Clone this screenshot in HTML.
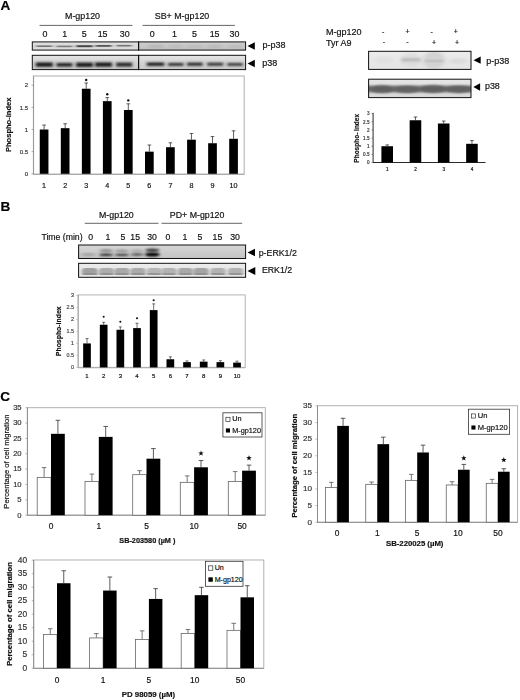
<!DOCTYPE html>
<html><head><meta charset="utf-8"><style>
html,body{margin:0;padding:0;background:#fff;}
body{width:520px;height:700px;overflow:hidden;font-family:"Liberation Sans",sans-serif;}
svg{display:block;filter:blur(0.35px);}
</style></head><body>
<svg width="520" height="700" viewBox="0 0 520 700" font-family="Liberation Sans, sans-serif"><defs>
<filter id="bl1" x="-20%" y="-200%" width="140%" height="500%"><feGaussianBlur stdDeviation="1.6 0.9"/></filter>
<filter id="bl2" x="-20%" y="-200%" width="140%" height="500%"><feGaussianBlur stdDeviation="2.2 1.2"/></filter>
<filter id="bl3" x="-20%" y="-50%" width="140%" height="200%"><feGaussianBlur stdDeviation="1.2"/></filter>
<filter id="bl4" x="-20%" y="-200%" width="140%" height="500%"><feGaussianBlur stdDeviation="1.4 0.75"/></filter>
<filter id="bl5" x="-20%" y="-200%" width="140%" height="500%"><feGaussianBlur stdDeviation="1.5 1.0"/></filter>

<linearGradient id="gA1" x1="0" y1="0" x2="0" y2="1"><stop offset="0" stop-color="#e2e2e2"/><stop offset="0.5" stop-color="#d8d8d8"/><stop offset="1" stop-color="#dedede"/></linearGradient>
<linearGradient id="gA2" x1="0" y1="0" x2="0" y2="1"><stop offset="0" stop-color="#e6e6e6"/><stop offset="0.45" stop-color="#d4d4d4"/><stop offset="1" stop-color="#c8c8c8"/></linearGradient>
<linearGradient id="gA1b" x1="0" y1="0" x2="0" y2="1"><stop offset="0" stop-color="#d0d0d0"/><stop offset="1" stop-color="#c0c0c0"/></linearGradient>
<linearGradient id="gR1" x1="0" y1="0" x2="0" y2="1"><stop offset="0" stop-color="#ececec"/><stop offset="1" stop-color="#e4e4e4"/></linearGradient>
<linearGradient id="gR2" x1="0" y1="0" x2="0" y2="1"><stop offset="0" stop-color="#e6e6e6"/><stop offset="1" stop-color="#d8d8d8"/></linearGradient>
<linearGradient id="gB1" x1="0" y1="0" x2="0" y2="1"><stop offset="0" stop-color="#d6d6d6"/><stop offset="0.5" stop-color="#cdcdcd"/><stop offset="1" stop-color="#c2c2c2"/></linearGradient>
<linearGradient id="gB2" x1="0" y1="0" x2="0" y2="1"><stop offset="0" stop-color="#ececec"/><stop offset="1" stop-color="#e2e2e2"/></linearGradient>
</defs><text x="0.50" y="9.70" font-size="13.6" text-anchor="start" fill="#000" stroke="#000" stroke-width="0.18" font-weight="bold" >A</text>
<text x="0.60" y="210.80" font-size="13.6" text-anchor="start" fill="#000" stroke="#000" stroke-width="0.18" font-weight="bold" >B</text>
<text x="0.30" y="401.40" font-size="13.6" text-anchor="start" fill="#000" stroke="#000" stroke-width="0.18" font-weight="bold" >C</text>
<text x="82.50" y="18.70" font-size="8.9" text-anchor="middle" fill="#111" stroke="#111" stroke-width="0.18" >M-gp120</text>
<text x="182.00" y="18.70" font-size="8.9" text-anchor="middle" fill="#111" stroke="#111" stroke-width="0.18" >SB+ M-gp120</text>
<line x1="39.50" y1="25.40" x2="132.30" y2="25.40" stroke="#555" stroke-width="0.9"/>
<line x1="142.50" y1="25.40" x2="234.80" y2="25.40" stroke="#555" stroke-width="0.9"/>
<text x="45.00" y="37.40" font-size="8.9" text-anchor="middle" fill="#111" stroke="#111" stroke-width="0.18" >0</text>
<text x="64.70" y="37.40" font-size="8.9" text-anchor="middle" fill="#111" stroke="#111" stroke-width="0.18" >1</text>
<text x="84.20" y="37.40" font-size="8.9" text-anchor="middle" fill="#111" stroke="#111" stroke-width="0.18" >5</text>
<text x="102.60" y="37.40" font-size="8.9" text-anchor="middle" fill="#111" stroke="#111" stroke-width="0.18" >15</text>
<text x="124.80" y="37.40" font-size="8.9" text-anchor="middle" fill="#111" stroke="#111" stroke-width="0.18" >30</text>
<text x="152.30" y="37.40" font-size="8.9" text-anchor="middle" fill="#111" stroke="#111" stroke-width="0.18" >0</text>
<text x="174.50" y="37.40" font-size="8.9" text-anchor="middle" fill="#111" stroke="#111" stroke-width="0.18" >1</text>
<text x="194.50" y="37.40" font-size="8.9" text-anchor="middle" fill="#111" stroke="#111" stroke-width="0.18" >5</text>
<text x="214.60" y="37.40" font-size="8.9" text-anchor="middle" fill="#111" stroke="#111" stroke-width="0.18" >15</text>
<text x="234.50" y="37.40" font-size="8.9" text-anchor="middle" fill="#111" stroke="#111" stroke-width="0.18" >30</text>
<clipPath id="cA1"><rect x="32.3" y="41.9" width="106.3" height="8.2"/></clipPath>
<g clip-path="url(#cA1)">
<rect x="32.30" y="41.90" width="106.30" height="8.20" fill="url(#gA1)" stroke="none" stroke-width="1" />
<rect x="36.30" y="45.40" width="16.00" height="1.60" fill="#6a6a6a" opacity="0.9" filter="url(#bl4)"/>
<rect x="56.40" y="45.60" width="16.00" height="1.60" fill="#707070" opacity="0.9" filter="url(#bl4)"/>
<rect x="76.25" y="45.20" width="16.50" height="2.00" fill="#444" opacity="1" filter="url(#bl4)"/>
<rect x="95.50" y="45.00" width="16.00" height="1.80" fill="#555" opacity="1" filter="url(#bl4)"/>
<rect x="116.60" y="44.90" width="15.00" height="1.60" fill="#6a6a6a" opacity="0.9" filter="url(#bl4)"/>
</g>
<rect x="32.30" y="41.90" width="106.30" height="8.20" fill="none" stroke="#111" stroke-width="1" />
<clipPath id="cA1b"><rect x="138.6" y="41.9" width="107.0" height="8.2"/></clipPath>
<g clip-path="url(#cA1b)">
<rect x="138.60" y="41.90" width="107.00" height="8.20" fill="url(#gA1b)" stroke="none" stroke-width="1" />
<ellipse cx="156.00" cy="46.30" rx="8.50" ry="1.20" fill="#a0a0a0" opacity="0.6" filter="url(#bl1)"/>
<ellipse cx="176.00" cy="46.30" rx="8.00" ry="1.10" fill="#a4a4a4" opacity="0.5" filter="url(#bl1)"/>
<ellipse cx="195.00" cy="46.30" rx="8.00" ry="1.10" fill="#a4a4a4" opacity="0.5" filter="url(#bl1)"/>
<ellipse cx="215.00" cy="46.30" rx="8.00" ry="1.10" fill="#a0a0a0" opacity="0.5" filter="url(#bl1)"/>
<ellipse cx="235.00" cy="46.30" rx="8.00" ry="1.10" fill="#a4a4a4" opacity="0.5" filter="url(#bl1)"/>
</g>
<rect x="138.60" y="41.90" width="107.00" height="8.20" fill="none" stroke="#111" stroke-width="1" />
<clipPath id="cA2"><rect x="32.3" y="55.3" width="106.3" height="14.3"/></clipPath>
<g clip-path="url(#cA2)">
<rect x="32.30" y="55.30" width="106.30" height="14.30" fill="url(#gA2)" stroke="none" stroke-width="1" />
<rect x="35.80" y="62.40" width="17.00" height="4.40" fill="#1c1c1c" opacity="1" filter="url(#bl5)"/>
<rect x="56.40" y="62.90" width="16.00" height="3.80" fill="#262626" opacity="1" filter="url(#bl5)"/>
<rect x="76.00" y="62.60" width="17.00" height="4.40" fill="#1e1e1e" opacity="1" filter="url(#bl5)"/>
<rect x="95.00" y="62.40" width="17.00" height="4.40" fill="#1e1e1e" opacity="1" filter="url(#bl5)"/>
<rect x="116.10" y="62.60" width="16.00" height="4.00" fill="#262626" opacity="1" filter="url(#bl5)"/>
</g>
<rect x="32.30" y="55.30" width="106.30" height="14.30" fill="none" stroke="#111" stroke-width="1" />
<clipPath id="cA2b"><rect x="138.6" y="55.3" width="107.0" height="14.3"/></clipPath>
<g clip-path="url(#cA2b)">
<rect x="138.60" y="55.30" width="107.00" height="14.30" fill="url(#gA2)" stroke="none" stroke-width="1" />
<rect x="146.75" y="62.50" width="17.50" height="3.40" fill="#1e1e1e" opacity="1" filter="url(#bl5)"/>
<rect x="168.05" y="62.90" width="15.50" height="3.00" fill="#303030" opacity="1" filter="url(#bl5)"/>
<rect x="187.05" y="62.60" width="15.50" height="3.20" fill="#2a2a2a" opacity="1" filter="url(#bl5)"/>
<rect x="207.20" y="62.70" width="16.00" height="3.00" fill="#303030" opacity="1" filter="url(#bl5)"/>
<rect x="227.25" y="62.95" width="15.50" height="2.90" fill="#3a3a3a" opacity="1" filter="url(#bl5)"/>
</g>
<rect x="138.60" y="55.30" width="107.00" height="14.30" fill="none" stroke="#111" stroke-width="1" />
<line x1="138.60" y1="41.90" x2="138.60" y2="50.10" stroke="#111" stroke-width="1"/>
<line x1="138.60" y1="55.30" x2="138.60" y2="69.60" stroke="#111" stroke-width="1"/>
<path d="M247.50,46.00 L254.80,42.20 L254.80,49.80 Z" fill="#000"/>
<path d="M247.50,63.50 L254.80,59.70 L254.80,67.30 Z" fill="#000"/>
<text x="262.50" y="48.44" font-size="9.0" text-anchor="start" fill="#111" stroke="#111" stroke-width="0.18" >p-p38</text>
<text x="262.30" y="65.84" font-size="9.0" text-anchor="start" fill="#111" stroke="#111" stroke-width="0.18" >p38</text>
<text x="326.00" y="34.74" font-size="9.0" text-anchor="start" fill="#111" stroke="#111" stroke-width="0.18" >M-gp120</text>
<text x="326.00" y="45.84" font-size="9.0" text-anchor="start" fill="#111" stroke="#111" stroke-width="0.18" >Tyr A9</text>
<text x="383.20" y="34.02" font-size="7.0" text-anchor="middle" fill="#111" stroke="#111" stroke-width="0.18" >-</text>
<text x="407.50" y="34.32" font-size="7.0" text-anchor="middle" fill="#111" stroke="#111" stroke-width="0.18" >+</text>
<text x="431.60" y="34.02" font-size="7.0" text-anchor="middle" fill="#111" stroke="#111" stroke-width="0.18" >-</text>
<text x="455.80" y="34.32" font-size="7.0" text-anchor="middle" fill="#111" stroke="#111" stroke-width="0.18" >+</text>
<text x="383.90" y="44.12" font-size="7.0" text-anchor="middle" fill="#111" stroke="#111" stroke-width="0.18" >-</text>
<text x="407.50" y="44.12" font-size="7.0" text-anchor="middle" fill="#111" stroke="#111" stroke-width="0.18" >-</text>
<text x="434.00" y="45.02" font-size="7.0" text-anchor="middle" fill="#111" stroke="#111" stroke-width="0.18" >+</text>
<text x="457.00" y="45.02" font-size="7.0" text-anchor="middle" fill="#111" stroke="#111" stroke-width="0.18" >+</text>
<clipPath id="cR1"><rect x="368.6" y="51.3" width="102.4" height="18.1"/></clipPath>
<g clip-path="url(#cR1)">
<rect x="368.60" y="51.30" width="102.40" height="18.10" fill="url(#gR1)" stroke="none" stroke-width="1" />
<ellipse cx="384.00" cy="60.00" rx="10.00" ry="4.00" fill="#e0e0e0" opacity="0.8" filter="url(#bl2)"/>
<ellipse cx="411.00" cy="60.00" rx="10.50" ry="7.00" fill="#dcdcdc" opacity="0.9" filter="url(#bl2)"/>
<rect x="401.50" y="58.30" width="19.00" height="3.00" fill="#b2b2b2" opacity="0.9" filter="url(#bl5)"/>
<ellipse cx="434.00" cy="60.00" rx="11.00" ry="9.00" fill="#d0d0d0" opacity="0.9" filter="url(#bl2)"/>
<rect x="425.00" y="59.50" width="18.00" height="3.00" fill="#c0c0c0" opacity="0.8" filter="url(#bl4)"/>
<ellipse cx="458.00" cy="61.00" rx="10.00" ry="3.00" fill="#d8d8d8" opacity="0.8" filter="url(#bl2)"/>
</g>
<rect x="368.60" y="51.30" width="102.40" height="18.10" fill="none" stroke="#111" stroke-width="1" />
<clipPath id="cR2"><rect x="368.6" y="79.2" width="102.4" height="18.4"/></clipPath>
<g clip-path="url(#cR2)">
<rect x="368.60" y="79.20" width="102.40" height="18.40" fill="url(#gR2)" stroke="none" stroke-width="1" />
<rect x="364.00" y="85.70" width="112.00" height="6.60" fill="#6a6a6a" opacity="1" filter="url(#bl5)"/>
<ellipse cx="382.00" cy="89.30" rx="11.00" ry="3.70" fill="#606060" opacity="0.9" filter="url(#bl3)"/>
<ellipse cx="407.00" cy="89.50" rx="12.00" ry="3.50" fill="#626262" opacity="0.9" filter="url(#bl3)"/>
<ellipse cx="433.00" cy="89.00" rx="12.00" ry="3.80" fill="#5e5e5e" opacity="0.9" filter="url(#bl3)"/>
<ellipse cx="459.00" cy="89.30" rx="12.00" ry="3.60" fill="#606060" opacity="0.9" filter="url(#bl3)"/>
</g>
<rect x="368.60" y="79.20" width="102.40" height="18.40" fill="none" stroke="#111" stroke-width="1" />
<path d="M473.50,60.20 L480.70,56.60 L480.70,63.80 Z" fill="#000"/>
<path d="M473.30,87.00 L480.10,83.30 L480.10,90.70 Z" fill="#000"/>
<text x="486.30" y="64.44" font-size="9.0" text-anchor="start" fill="#111" stroke="#111" stroke-width="0.18" >p-p38</text>
<text x="485.00" y="89.10" font-size="8.9" text-anchor="start" fill="#111" stroke="#111" stroke-width="0.18" >p38</text>
<rect x="33.50" y="76.00" width="210.70" height="98.30" fill="none" stroke="#bbb" stroke-width="1.2" />
<line x1="33.50" y1="76.00" x2="33.50" y2="174.30" stroke="#999" stroke-width="1.0"/>
<line x1="33.50" y1="174.30" x2="244.20" y2="174.30" stroke="#aaa" stroke-width="1.2"/>
<text x="28.20" y="175.96" font-size="6.0" text-anchor="end" fill="#333" stroke="#333" stroke-width="0.18" >0</text>
<line x1="31.50" y1="173.80" x2="33.50" y2="173.80" stroke="#777" stroke-width="0.6"/>
<text x="28.20" y="153.81" font-size="6.0" text-anchor="end" fill="#333" stroke="#333" stroke-width="0.18" >0.5</text>
<line x1="31.50" y1="151.65" x2="33.50" y2="151.65" stroke="#777" stroke-width="0.6"/>
<text x="28.20" y="131.66" font-size="6.0" text-anchor="end" fill="#333" stroke="#333" stroke-width="0.18" >1</text>
<line x1="31.50" y1="129.50" x2="33.50" y2="129.50" stroke="#777" stroke-width="0.6"/>
<text x="28.20" y="109.51" font-size="6.0" text-anchor="end" fill="#333" stroke="#333" stroke-width="0.18" >1.5</text>
<line x1="31.50" y1="107.35" x2="33.50" y2="107.35" stroke="#777" stroke-width="0.6"/>
<text x="28.20" y="87.36" font-size="6.0" text-anchor="end" fill="#333" stroke="#333" stroke-width="0.18" >2</text>
<line x1="31.50" y1="85.20" x2="33.50" y2="85.20" stroke="#777" stroke-width="0.6"/>
<line x1="44.10" y1="129.50" x2="44.10" y2="125.07" stroke="#333" stroke-width="0.8"/>
<line x1="42.30" y1="125.07" x2="45.90" y2="125.07" stroke="#333" stroke-width="0.8"/>
<rect x="39.75" y="129.50" width="8.70" height="44.30" fill="#000" stroke="none" stroke-width="1" />
<text x="44.10" y="187.79" font-size="7.2" text-anchor="middle" fill="#111" stroke="#111" stroke-width="0.18" >1</text>
<line x1="65.15" y1="128.17" x2="65.15" y2="123.74" stroke="#333" stroke-width="0.8"/>
<line x1="63.35" y1="123.74" x2="66.95" y2="123.74" stroke="#333" stroke-width="0.8"/>
<rect x="60.80" y="128.17" width="8.70" height="45.63" fill="#000" stroke="none" stroke-width="1" />
<text x="65.15" y="187.79" font-size="7.2" text-anchor="middle" fill="#111" stroke="#111" stroke-width="0.18" >2</text>
<line x1="86.20" y1="88.74" x2="86.20" y2="82.99" stroke="#333" stroke-width="0.8"/>
<line x1="84.40" y1="82.99" x2="88.00" y2="82.99" stroke="#333" stroke-width="0.8"/>
<rect x="81.85" y="88.74" width="8.70" height="85.06" fill="#000" stroke="none" stroke-width="1" />
<text x="86.20" y="187.79" font-size="7.2" text-anchor="middle" fill="#111" stroke="#111" stroke-width="0.18" >3</text>
<line x1="107.25" y1="101.15" x2="107.25" y2="97.60" stroke="#333" stroke-width="0.8"/>
<line x1="105.45" y1="97.60" x2="109.05" y2="97.60" stroke="#333" stroke-width="0.8"/>
<rect x="102.90" y="101.15" width="8.70" height="72.65" fill="#000" stroke="none" stroke-width="1" />
<text x="107.25" y="187.79" font-size="7.2" text-anchor="middle" fill="#111" stroke="#111" stroke-width="0.18" >4</text>
<line x1="128.30" y1="110.01" x2="128.30" y2="103.81" stroke="#333" stroke-width="0.8"/>
<line x1="126.50" y1="103.81" x2="130.10" y2="103.81" stroke="#333" stroke-width="0.8"/>
<rect x="123.95" y="110.01" width="8.70" height="63.79" fill="#000" stroke="none" stroke-width="1" />
<text x="128.30" y="187.79" font-size="7.2" text-anchor="middle" fill="#111" stroke="#111" stroke-width="0.18" >5</text>
<line x1="149.35" y1="151.65" x2="149.35" y2="145.00" stroke="#333" stroke-width="0.8"/>
<line x1="147.55" y1="145.00" x2="151.15" y2="145.00" stroke="#333" stroke-width="0.8"/>
<rect x="145.00" y="151.65" width="8.70" height="22.15" fill="#000" stroke="none" stroke-width="1" />
<text x="149.35" y="187.79" font-size="7.2" text-anchor="middle" fill="#111" stroke="#111" stroke-width="0.18" >6</text>
<line x1="170.40" y1="147.22" x2="170.40" y2="142.79" stroke="#333" stroke-width="0.8"/>
<line x1="168.60" y1="142.79" x2="172.20" y2="142.79" stroke="#333" stroke-width="0.8"/>
<rect x="166.05" y="147.22" width="8.70" height="26.58" fill="#000" stroke="none" stroke-width="1" />
<text x="170.40" y="187.79" font-size="7.2" text-anchor="middle" fill="#111" stroke="#111" stroke-width="0.18" >7</text>
<line x1="191.45" y1="139.69" x2="191.45" y2="133.49" stroke="#333" stroke-width="0.8"/>
<line x1="189.65" y1="133.49" x2="193.25" y2="133.49" stroke="#333" stroke-width="0.8"/>
<rect x="187.10" y="139.69" width="8.70" height="34.11" fill="#000" stroke="none" stroke-width="1" />
<text x="191.45" y="187.79" font-size="7.2" text-anchor="middle" fill="#111" stroke="#111" stroke-width="0.18" >8</text>
<line x1="212.50" y1="143.23" x2="212.50" y2="136.59" stroke="#333" stroke-width="0.8"/>
<line x1="210.70" y1="136.59" x2="214.30" y2="136.59" stroke="#333" stroke-width="0.8"/>
<rect x="208.15" y="143.23" width="8.70" height="30.57" fill="#000" stroke="none" stroke-width="1" />
<text x="212.50" y="187.79" font-size="7.2" text-anchor="middle" fill="#111" stroke="#111" stroke-width="0.18" >9</text>
<line x1="233.55" y1="138.80" x2="233.55" y2="130.83" stroke="#333" stroke-width="0.8"/>
<line x1="231.75" y1="130.83" x2="235.35" y2="130.83" stroke="#333" stroke-width="0.8"/>
<rect x="229.20" y="138.80" width="8.70" height="35.00" fill="#000" stroke="none" stroke-width="1" />
<text x="233.55" y="187.79" font-size="7.2" text-anchor="middle" fill="#111" stroke="#111" stroke-width="0.18" >10</text>
<circle cx="86.20" cy="80.00" r="1.20" fill="#111"/>
<circle cx="107.25" cy="94.20" r="1.20" fill="#111"/>
<circle cx="128.30" cy="100.40" r="1.20" fill="#111"/>
<text x="0" y="0" font-size="7.55" text-anchor="middle" fill="#111" stroke="#111" stroke-width="0.18" font-weight="bold" transform="translate(11.22,124.80) rotate(-90)">Phospho-index</text>
<line x1="373.10" y1="112.80" x2="373.10" y2="162.50" stroke="#111" stroke-width="0.9"/>
<line x1="373.10" y1="162.50" x2="485.50" y2="162.50" stroke="#111" stroke-width="0.9"/>
<text x="369.50" y="164.16" font-size="4.6" text-anchor="end" fill="#333" stroke="#333" stroke-width="0.18" >0</text>
<line x1="371.50" y1="162.50" x2="373.00" y2="162.50" stroke="#444" stroke-width="0.6"/>
<text x="369.50" y="156.03" font-size="4.6" text-anchor="end" fill="#333" stroke="#333" stroke-width="0.18" >0.5</text>
<line x1="371.50" y1="154.38" x2="373.00" y2="154.38" stroke="#444" stroke-width="0.6"/>
<text x="369.50" y="147.91" font-size="4.6" text-anchor="end" fill="#333" stroke="#333" stroke-width="0.18" >1</text>
<line x1="371.50" y1="146.25" x2="373.00" y2="146.25" stroke="#444" stroke-width="0.6"/>
<text x="369.50" y="139.78" font-size="4.6" text-anchor="end" fill="#333" stroke="#333" stroke-width="0.18" >1.5</text>
<line x1="371.50" y1="138.12" x2="373.00" y2="138.12" stroke="#444" stroke-width="0.6"/>
<text x="369.50" y="131.66" font-size="4.6" text-anchor="end" fill="#333" stroke="#333" stroke-width="0.18" >2</text>
<line x1="371.50" y1="130.00" x2="373.00" y2="130.00" stroke="#444" stroke-width="0.6"/>
<text x="369.50" y="123.53" font-size="4.6" text-anchor="end" fill="#333" stroke="#333" stroke-width="0.18" >2.5</text>
<line x1="371.50" y1="121.88" x2="373.00" y2="121.88" stroke="#444" stroke-width="0.6"/>
<text x="369.50" y="115.41" font-size="4.6" text-anchor="end" fill="#333" stroke="#333" stroke-width="0.18" >3</text>
<line x1="371.50" y1="113.75" x2="373.00" y2="113.75" stroke="#444" stroke-width="0.6"/>
<line x1="387.20" y1="146.25" x2="387.20" y2="144.95" stroke="#333" stroke-width="0.8"/>
<line x1="385.40" y1="144.95" x2="389.00" y2="144.95" stroke="#333" stroke-width="0.8"/>
<rect x="381.40" y="146.25" width="11.60" height="16.25" fill="#000" stroke="none" stroke-width="1" />
<text x="387.20" y="171.16" font-size="4.6" text-anchor="middle" fill="#111" stroke="#111" stroke-width="0.18" >1</text>
<line x1="415.45" y1="120.25" x2="415.45" y2="117.00" stroke="#333" stroke-width="0.8"/>
<line x1="413.65" y1="117.00" x2="417.25" y2="117.00" stroke="#333" stroke-width="0.8"/>
<rect x="409.65" y="120.25" width="11.60" height="42.25" fill="#000" stroke="none" stroke-width="1" />
<text x="415.45" y="171.16" font-size="4.6" text-anchor="middle" fill="#111" stroke="#111" stroke-width="0.18" >2</text>
<line x1="443.70" y1="123.50" x2="443.70" y2="121.06" stroke="#333" stroke-width="0.8"/>
<line x1="441.90" y1="121.06" x2="445.50" y2="121.06" stroke="#333" stroke-width="0.8"/>
<rect x="437.90" y="123.50" width="11.60" height="39.00" fill="#000" stroke="none" stroke-width="1" />
<text x="443.70" y="171.16" font-size="4.6" text-anchor="middle" fill="#111" stroke="#111" stroke-width="0.18" >3</text>
<line x1="471.95" y1="143.81" x2="471.95" y2="140.56" stroke="#333" stroke-width="0.8"/>
<line x1="470.15" y1="140.56" x2="473.75" y2="140.56" stroke="#333" stroke-width="0.8"/>
<rect x="466.15" y="143.81" width="11.60" height="18.69" fill="#000" stroke="none" stroke-width="1" />
<text x="471.95" y="171.16" font-size="4.6" text-anchor="middle" fill="#111" stroke="#111" stroke-width="0.18" >4</text>
<text x="0" y="0" font-size="6.5" text-anchor="middle" fill="#111" stroke="#111" stroke-width="0.18" font-weight="bold" transform="translate(358.94,138.30) rotate(-90)">Phospho- index</text>
<text x="116.40" y="217.77" font-size="8.8" text-anchor="middle" fill="#111" stroke="#111" stroke-width="0.18" >M-gp120</text>
<text x="197.10" y="217.77" font-size="8.8" text-anchor="middle" fill="#111" stroke="#111" stroke-width="0.18" >PD+ M-gp120</text>
<line x1="84.70" y1="223.30" x2="158.50" y2="223.30" stroke="#555" stroke-width="0.9"/>
<line x1="161.50" y1="223.30" x2="242.20" y2="223.30" stroke="#555" stroke-width="0.9"/>
<text x="62.00" y="240.43" font-size="8.7" text-anchor="middle" fill="#111" stroke="#111" stroke-width="0.18" >Time (min)</text>
<text x="90.70" y="240.43" font-size="8.7" text-anchor="middle" fill="#111" stroke="#111" stroke-width="0.18" >0</text>
<text x="107.90" y="240.43" font-size="8.7" text-anchor="middle" fill="#111" stroke="#111" stroke-width="0.18" >1</text>
<text x="122.80" y="240.43" font-size="8.7" text-anchor="middle" fill="#111" stroke="#111" stroke-width="0.18" >5</text>
<text x="135.20" y="240.43" font-size="8.7" text-anchor="middle" fill="#111" stroke="#111" stroke-width="0.18" >15</text>
<text x="152.00" y="240.43" font-size="8.7" text-anchor="middle" fill="#111" stroke="#111" stroke-width="0.18" >30</text>
<text x="167.90" y="240.43" font-size="8.7" text-anchor="middle" fill="#111" stroke="#111" stroke-width="0.18" >0</text>
<text x="184.80" y="240.43" font-size="8.7" text-anchor="middle" fill="#111" stroke="#111" stroke-width="0.18" >1</text>
<text x="200.00" y="240.43" font-size="8.7" text-anchor="middle" fill="#111" stroke="#111" stroke-width="0.18" >5</text>
<text x="217.40" y="240.43" font-size="8.7" text-anchor="middle" fill="#111" stroke="#111" stroke-width="0.18" >15</text>
<text x="235.00" y="240.43" font-size="8.7" text-anchor="middle" fill="#111" stroke="#111" stroke-width="0.18" >30</text>
<clipPath id="cB1"><rect x="78.6" y="245.0" width="167.0" height="13.5"/></clipPath>
<g clip-path="url(#cB1)">
<rect x="78.60" y="245.00" width="167.00" height="13.50" fill="url(#gB1)" stroke="none" stroke-width="1" />
<ellipse cx="88.50" cy="254.60" rx="7.50" ry="1.00" fill="#808080" opacity="0.8" filter="url(#bl1)"/>
<ellipse cx="106.10" cy="254.80" rx="7.25" ry="1.30" fill="#262626" opacity="1" filter="url(#bl1)"/>
<ellipse cx="106.10" cy="250.80" rx="7.00" ry="1.50" fill="#7c7c7c" opacity="0.85" filter="url(#bl1)"/>
<ellipse cx="121.90" cy="254.90" rx="7.25" ry="1.20" fill="#363636" opacity="1" filter="url(#bl1)"/>
<ellipse cx="121.90" cy="250.90" rx="7.00" ry="1.40" fill="#8a8a8a" opacity="0.85" filter="url(#bl1)"/>
<ellipse cx="137.10" cy="254.50" rx="7.00" ry="1.20" fill="#444" opacity="1" filter="url(#bl1)"/>
<ellipse cx="137.10" cy="250.80" rx="6.50" ry="1.30" fill="#999" opacity="0.8" filter="url(#bl1)"/>
<ellipse cx="152.40" cy="254.50" rx="7.50" ry="2.10" fill="#000" opacity="1" filter="url(#bl1)"/>
<ellipse cx="152.40" cy="250.20" rx="7.00" ry="1.70" fill="#3a3a3a" opacity="1" filter="url(#bl1)"/>
</g>
<rect x="78.60" y="245.00" width="167.00" height="13.50" fill="none" stroke="#111" stroke-width="1" />
<clipPath id="cB2"><rect x="78.6" y="263.3" width="167.0" height="14.0"/></clipPath>
<g clip-path="url(#cB2)">
<rect x="78.60" y="263.30" width="167.00" height="14.00" fill="url(#gB2)" stroke="none" stroke-width="1" />
<rect x="81.80" y="267.90" width="16.00" height="7.00" rx="3.50" fill="#a0a0a0" opacity="1" filter="url(#bl4)"/>
<rect x="82.55" y="273.10" width="14.50" height="1.80" rx="0.90" fill="#8e8e8e" opacity="0.8" filter="url(#bl4)"/>
<rect x="98.75" y="267.90" width="15.50" height="7.00" rx="3.50" fill="#acacac" opacity="1" filter="url(#bl4)"/>
<rect x="99.50" y="273.10" width="14.00" height="1.80" rx="0.90" fill="#8e8e8e" opacity="0.8" filter="url(#bl4)"/>
<rect x="114.25" y="267.90" width="15.50" height="7.00" rx="3.50" fill="#a8a8a8" opacity="1" filter="url(#bl4)"/>
<rect x="115.00" y="273.10" width="14.00" height="1.80" rx="0.90" fill="#8e8e8e" opacity="0.8" filter="url(#bl4)"/>
<rect x="130.25" y="267.90" width="15.50" height="7.00" rx="3.50" fill="#aaaaaa" opacity="1" filter="url(#bl4)"/>
<rect x="131.00" y="273.10" width="14.00" height="1.80" rx="0.90" fill="#8e8e8e" opacity="0.8" filter="url(#bl4)"/>
<rect x="146.55" y="267.90" width="15.50" height="7.00" rx="3.50" fill="#b6b6b6" opacity="1" filter="url(#bl4)"/>
<rect x="147.30" y="273.10" width="14.00" height="1.80" rx="0.90" fill="#8e8e8e" opacity="0.8" filter="url(#bl4)"/>
<rect x="161.25" y="267.90" width="15.50" height="7.00" rx="3.50" fill="#b2b2b2" opacity="1" filter="url(#bl4)"/>
<rect x="162.00" y="273.10" width="14.00" height="1.80" rx="0.90" fill="#8e8e8e" opacity="0.8" filter="url(#bl4)"/>
<rect x="177.75" y="267.90" width="15.50" height="7.00" rx="3.50" fill="#a8a8a8" opacity="1" filter="url(#bl4)"/>
<rect x="178.50" y="273.10" width="14.00" height="1.80" rx="0.90" fill="#8e8e8e" opacity="0.8" filter="url(#bl4)"/>
<rect x="193.25" y="267.90" width="15.50" height="7.00" rx="3.50" fill="#a4a4a4" opacity="1" filter="url(#bl4)"/>
<rect x="194.00" y="273.10" width="14.00" height="1.80" rx="0.90" fill="#8e8e8e" opacity="0.8" filter="url(#bl4)"/>
<rect x="210.25" y="267.90" width="15.50" height="7.00" rx="3.50" fill="#b2b2b2" opacity="1" filter="url(#bl4)"/>
<rect x="211.00" y="273.10" width="14.00" height="1.80" rx="0.90" fill="#8e8e8e" opacity="0.8" filter="url(#bl4)"/>
<rect x="227.85" y="267.90" width="15.50" height="7.00" rx="3.50" fill="#b2b2b2" opacity="1" filter="url(#bl4)"/>
<rect x="228.60" y="273.10" width="14.00" height="1.80" rx="0.90" fill="#8e8e8e" opacity="0.8" filter="url(#bl4)"/>
<rect x="77.00" y="275.55" width="170.00" height="0.90" fill="#f4f4f4" opacity="0.9" filter="url(#bl3)"/>
</g>
<rect x="78.60" y="263.30" width="167.00" height="14.00" fill="none" stroke="#111" stroke-width="1" />
<path d="M247.50,252.50 L255.00,248.75 L255.00,256.25 Z" fill="#000"/>
<path d="M247.50,271.00 L255.30,267.10 L255.30,274.90 Z" fill="#000"/>
<text x="258.70" y="255.77" font-size="8.8" text-anchor="start" fill="#111" stroke="#111" stroke-width="0.18" >p-ERK1/2</text>
<text x="261.90" y="273.17" font-size="8.8" text-anchor="start" fill="#111" stroke="#111" stroke-width="0.18" >ERK1/2</text>
<rect x="78.20" y="294.90" width="167.00" height="72.50" fill="none" stroke="#bbb" stroke-width="1.1" />
<line x1="78.20" y1="294.90" x2="78.20" y2="367.70" stroke="#aaa" stroke-width="1.1"/>
<line x1="78.20" y1="367.70" x2="245.20" y2="367.70" stroke="#aaa" stroke-width="1.1"/>
<text x="74.00" y="369.34" font-size="5.4" text-anchor="end" fill="#444" stroke="#444" stroke-width="0.18" >0</text>
<line x1="76.20" y1="367.40" x2="78.20" y2="367.40" stroke="#aaa" stroke-width="0.6"/>
<text x="74.00" y="357.36" font-size="5.4" text-anchor="end" fill="#444" stroke="#444" stroke-width="0.18" >0.5</text>
<line x1="76.20" y1="355.41" x2="78.20" y2="355.41" stroke="#aaa" stroke-width="0.6"/>
<text x="74.00" y="345.37" font-size="5.4" text-anchor="end" fill="#444" stroke="#444" stroke-width="0.18" >1</text>
<line x1="76.20" y1="343.43" x2="78.20" y2="343.43" stroke="#aaa" stroke-width="0.6"/>
<text x="74.00" y="333.39" font-size="5.4" text-anchor="end" fill="#444" stroke="#444" stroke-width="0.18" >1.5</text>
<line x1="76.20" y1="331.44" x2="78.20" y2="331.44" stroke="#aaa" stroke-width="0.6"/>
<text x="74.00" y="321.40" font-size="5.4" text-anchor="end" fill="#444" stroke="#444" stroke-width="0.18" >2</text>
<line x1="76.20" y1="319.46" x2="78.20" y2="319.46" stroke="#aaa" stroke-width="0.6"/>
<text x="74.00" y="309.42" font-size="5.4" text-anchor="end" fill="#444" stroke="#444" stroke-width="0.18" >2.5</text>
<line x1="76.20" y1="307.47" x2="78.20" y2="307.47" stroke="#aaa" stroke-width="0.6"/>
<text x="74.00" y="297.43" font-size="5.4" text-anchor="end" fill="#444" stroke="#444" stroke-width="0.18" >3</text>
<line x1="76.20" y1="295.49" x2="78.20" y2="295.49" stroke="#aaa" stroke-width="0.6"/>
<line x1="87.00" y1="343.43" x2="87.00" y2="338.64" stroke="#333" stroke-width="0.7"/>
<line x1="85.50" y1="338.64" x2="88.50" y2="338.64" stroke="#333" stroke-width="0.7"/>
<rect x="83.15" y="343.43" width="7.70" height="23.97" fill="#000" stroke="none" stroke-width="1" />
<text x="87.00" y="377.86" font-size="6.0" text-anchor="middle" fill="#111" stroke="#111" stroke-width="0.18" >1</text>
<line x1="103.67" y1="324.73" x2="103.67" y2="322.34" stroke="#333" stroke-width="0.7"/>
<line x1="102.17" y1="322.34" x2="105.17" y2="322.34" stroke="#333" stroke-width="0.7"/>
<rect x="99.82" y="324.73" width="7.70" height="42.67" fill="#000" stroke="none" stroke-width="1" />
<text x="103.67" y="377.86" font-size="6.0" text-anchor="middle" fill="#111" stroke="#111" stroke-width="0.18" >2</text>
<line x1="120.34" y1="329.77" x2="120.34" y2="326.89" stroke="#333" stroke-width="0.7"/>
<line x1="118.84" y1="326.89" x2="121.84" y2="326.89" stroke="#333" stroke-width="0.7"/>
<rect x="116.49" y="329.77" width="7.70" height="37.63" fill="#000" stroke="none" stroke-width="1" />
<text x="120.34" y="377.86" font-size="6.0" text-anchor="middle" fill="#111" stroke="#111" stroke-width="0.18" >3</text>
<line x1="137.01" y1="328.09" x2="137.01" y2="323.30" stroke="#333" stroke-width="0.7"/>
<line x1="135.51" y1="323.30" x2="138.51" y2="323.30" stroke="#333" stroke-width="0.7"/>
<rect x="133.16" y="328.09" width="7.70" height="39.31" fill="#000" stroke="none" stroke-width="1" />
<text x="137.01" y="377.86" font-size="6.0" text-anchor="middle" fill="#111" stroke="#111" stroke-width="0.18" >4</text>
<line x1="153.68" y1="310.11" x2="153.68" y2="303.88" stroke="#333" stroke-width="0.7"/>
<line x1="152.18" y1="303.88" x2="155.18" y2="303.88" stroke="#333" stroke-width="0.7"/>
<rect x="149.83" y="310.11" width="7.70" height="57.29" fill="#000" stroke="none" stroke-width="1" />
<text x="153.68" y="377.86" font-size="6.0" text-anchor="middle" fill="#111" stroke="#111" stroke-width="0.18" >5</text>
<line x1="170.35" y1="359.25" x2="170.35" y2="356.85" stroke="#333" stroke-width="0.7"/>
<line x1="168.85" y1="356.85" x2="171.85" y2="356.85" stroke="#333" stroke-width="0.7"/>
<rect x="166.50" y="359.25" width="7.70" height="8.15" fill="#000" stroke="none" stroke-width="1" />
<text x="170.35" y="377.86" font-size="6.0" text-anchor="middle" fill="#111" stroke="#111" stroke-width="0.18" >6</text>
<line x1="187.02" y1="362.13" x2="187.02" y2="360.93" stroke="#333" stroke-width="0.7"/>
<line x1="185.52" y1="360.93" x2="188.52" y2="360.93" stroke="#333" stroke-width="0.7"/>
<rect x="183.17" y="362.13" width="7.70" height="5.27" fill="#000" stroke="none" stroke-width="1" />
<text x="187.02" y="377.86" font-size="6.0" text-anchor="middle" fill="#111" stroke="#111" stroke-width="0.18" >7</text>
<line x1="203.69" y1="361.65" x2="203.69" y2="359.97" stroke="#333" stroke-width="0.7"/>
<line x1="202.19" y1="359.97" x2="205.19" y2="359.97" stroke="#333" stroke-width="0.7"/>
<rect x="199.84" y="361.65" width="7.70" height="5.75" fill="#000" stroke="none" stroke-width="1" />
<text x="203.69" y="377.86" font-size="6.0" text-anchor="middle" fill="#111" stroke="#111" stroke-width="0.18" >8</text>
<line x1="220.36" y1="362.13" x2="220.36" y2="360.69" stroke="#333" stroke-width="0.7"/>
<line x1="218.86" y1="360.69" x2="221.86" y2="360.69" stroke="#333" stroke-width="0.7"/>
<rect x="216.51" y="362.13" width="7.70" height="5.27" fill="#000" stroke="none" stroke-width="1" />
<text x="220.36" y="377.86" font-size="6.0" text-anchor="middle" fill="#111" stroke="#111" stroke-width="0.18" >9</text>
<line x1="237.03" y1="362.61" x2="237.03" y2="361.17" stroke="#333" stroke-width="0.7"/>
<line x1="235.53" y1="361.17" x2="238.53" y2="361.17" stroke="#333" stroke-width="0.7"/>
<rect x="233.18" y="362.61" width="7.70" height="4.79" fill="#000" stroke="none" stroke-width="1" />
<text x="237.03" y="377.86" font-size="6.0" text-anchor="middle" fill="#111" stroke="#111" stroke-width="0.18" >10</text>
<circle cx="103.67" cy="316.80" r="1.05" fill="#111"/>
<circle cx="120.34" cy="321.70" r="1.05" fill="#111"/>
<circle cx="137.01" cy="318.20" r="1.05" fill="#111"/>
<circle cx="153.68" cy="300.20" r="1.05" fill="#111"/>
<text x="0" y="0" font-size="6.9" text-anchor="middle" fill="#111" stroke="#111" stroke-width="0.18" font-weight="bold" transform="translate(60.78,331.30) rotate(-90)">Phospho-index</text>
<rect x="27.40" y="407.70" width="237.90" height="107.50" fill="none" stroke="#aaa" stroke-width="0.9" />
<line x1="27.40" y1="407.70" x2="27.40" y2="515.20" stroke="#888" stroke-width="0.9"/>
<line x1="27.40" y1="515.20" x2="265.30" y2="515.20" stroke="#888" stroke-width="0.9"/>
<text x="21.60" y="517.54" font-size="7.6" text-anchor="end" fill="#333" stroke="#333" stroke-width="0.18" >0</text>
<line x1="25.40" y1="515.20" x2="27.40" y2="515.20" stroke="#888" stroke-width="0.6"/>
<text x="21.60" y="502.18" font-size="7.6" text-anchor="end" fill="#333" stroke="#333" stroke-width="0.18" >5</text>
<line x1="25.40" y1="499.85" x2="27.40" y2="499.85" stroke="#888" stroke-width="0.6"/>
<text x="21.60" y="486.83" font-size="7.6" text-anchor="end" fill="#333" stroke="#333" stroke-width="0.18" >10</text>
<line x1="25.40" y1="484.49" x2="27.40" y2="484.49" stroke="#888" stroke-width="0.6"/>
<text x="21.60" y="471.47" font-size="7.6" text-anchor="end" fill="#333" stroke="#333" stroke-width="0.18" >15</text>
<line x1="25.40" y1="469.14" x2="27.40" y2="469.14" stroke="#888" stroke-width="0.6"/>
<text x="21.60" y="456.12" font-size="7.6" text-anchor="end" fill="#333" stroke="#333" stroke-width="0.18" >20</text>
<line x1="25.40" y1="453.78" x2="27.40" y2="453.78" stroke="#888" stroke-width="0.6"/>
<text x="21.60" y="440.76" font-size="7.6" text-anchor="end" fill="#333" stroke="#333" stroke-width="0.18" >25</text>
<line x1="25.40" y1="438.43" x2="27.40" y2="438.43" stroke="#888" stroke-width="0.6"/>
<text x="21.60" y="425.41" font-size="7.6" text-anchor="end" fill="#333" stroke="#333" stroke-width="0.18" >30</text>
<line x1="25.40" y1="423.07" x2="27.40" y2="423.07" stroke="#888" stroke-width="0.6"/>
<text x="21.60" y="410.05" font-size="7.6" text-anchor="end" fill="#333" stroke="#333" stroke-width="0.18" >35</text>
<line x1="25.40" y1="407.72" x2="27.40" y2="407.72" stroke="#888" stroke-width="0.6"/>
<line x1="44.10" y1="477.43" x2="44.10" y2="467.60" stroke="#555" stroke-width="0.8"/>
<line x1="41.80" y1="467.60" x2="46.40" y2="467.60" stroke="#555" stroke-width="0.8"/>
<rect x="37.20" y="477.43" width="13.80" height="37.77" fill="#fff" stroke="#666" stroke-width="0.8" />
<line x1="57.90" y1="433.82" x2="57.90" y2="420.31" stroke="#333" stroke-width="0.8"/>
<line x1="55.60" y1="420.31" x2="60.20" y2="420.31" stroke="#333" stroke-width="0.8"/>
<rect x="51.00" y="433.82" width="13.80" height="81.38" fill="#000" stroke="none" stroke-width="1" />
<line x1="91.90" y1="481.42" x2="91.90" y2="474.05" stroke="#555" stroke-width="0.8"/>
<line x1="89.60" y1="474.05" x2="94.20" y2="474.05" stroke="#555" stroke-width="0.8"/>
<rect x="85.00" y="481.42" width="13.80" height="33.78" fill="#fff" stroke="#666" stroke-width="0.8" />
<line x1="105.70" y1="436.89" x2="105.70" y2="426.45" stroke="#333" stroke-width="0.8"/>
<line x1="103.40" y1="426.45" x2="108.00" y2="426.45" stroke="#333" stroke-width="0.8"/>
<rect x="98.80" y="436.89" width="13.80" height="78.31" fill="#000" stroke="none" stroke-width="1" />
<line x1="139.60" y1="474.66" x2="139.60" y2="470.67" stroke="#555" stroke-width="0.8"/>
<line x1="137.30" y1="470.67" x2="141.90" y2="470.67" stroke="#555" stroke-width="0.8"/>
<rect x="132.70" y="474.66" width="13.80" height="40.54" fill="#fff" stroke="#666" stroke-width="0.8" />
<line x1="153.40" y1="458.69" x2="153.40" y2="448.56" stroke="#333" stroke-width="0.8"/>
<line x1="151.10" y1="448.56" x2="155.70" y2="448.56" stroke="#333" stroke-width="0.8"/>
<rect x="146.50" y="458.69" width="13.80" height="56.51" fill="#000" stroke="none" stroke-width="1" />
<line x1="187.20" y1="482.34" x2="187.20" y2="475.89" stroke="#555" stroke-width="0.8"/>
<line x1="184.90" y1="475.89" x2="189.50" y2="475.89" stroke="#555" stroke-width="0.8"/>
<rect x="180.30" y="482.34" width="13.80" height="32.86" fill="#fff" stroke="#666" stroke-width="0.8" />
<line x1="201.00" y1="467.29" x2="201.00" y2="460.54" stroke="#333" stroke-width="0.8"/>
<line x1="198.70" y1="460.54" x2="203.30" y2="460.54" stroke="#333" stroke-width="0.8"/>
<rect x="194.10" y="467.29" width="13.80" height="47.91" fill="#000" stroke="none" stroke-width="1" />
<line x1="235.20" y1="481.42" x2="235.20" y2="471.59" stroke="#555" stroke-width="0.8"/>
<line x1="232.90" y1="471.59" x2="237.50" y2="471.59" stroke="#555" stroke-width="0.8"/>
<rect x="228.30" y="481.42" width="13.80" height="33.78" fill="#fff" stroke="#666" stroke-width="0.8" />
<line x1="249.00" y1="470.67" x2="249.00" y2="465.14" stroke="#333" stroke-width="0.8"/>
<line x1="246.70" y1="465.14" x2="251.30" y2="465.14" stroke="#333" stroke-width="0.8"/>
<rect x="242.10" y="470.67" width="13.80" height="44.53" fill="#000" stroke="none" stroke-width="1" />
<polygon points="201.00,450.50 201.72,452.41 203.76,452.50 202.16,453.78 202.70,455.75 201.00,454.62 199.30,455.75 199.84,453.78 198.24,452.50 200.28,452.41" fill="#111"/>
<polygon points="249.00,455.20 249.72,457.11 251.76,457.20 250.16,458.48 250.70,460.45 249.00,459.32 247.30,460.45 247.84,458.48 246.24,457.20 248.28,457.11" fill="#111"/>
<text x="51.00" y="528.82" font-size="8.4" text-anchor="middle" fill="#111" stroke="#111" stroke-width="0.18" >0</text>
<text x="98.80" y="528.82" font-size="8.4" text-anchor="middle" fill="#111" stroke="#111" stroke-width="0.18" >1</text>
<text x="146.50" y="528.82" font-size="8.4" text-anchor="middle" fill="#111" stroke="#111" stroke-width="0.18" >5</text>
<text x="194.10" y="528.82" font-size="8.4" text-anchor="middle" fill="#111" stroke="#111" stroke-width="0.18" >10</text>
<text x="242.10" y="528.82" font-size="8.4" text-anchor="middle" fill="#111" stroke="#111" stroke-width="0.18" >50</text>
<text x="119.30" y="543.03" font-size="7.3" text-anchor="start" fill="#111" stroke="#111" stroke-width="0.18" font-weight="bold" >SB-203580 (µM )</text>
<text x="0" y="0" font-size="7.6" text-anchor="middle" fill="#111" stroke="#111" stroke-width="0.18" transform="translate(8.84,461.60) rotate(-90)">Percentage of cell migration</text>
<rect x="222.90" y="412.80" width="39.10" height="24.20" fill="#fff" stroke="#333" stroke-width="0.8" />
<rect x="225.90" y="417.28" width="4.10" height="4.10" fill="#fff" stroke="#333" stroke-width="0.7" />
<rect x="225.90" y="428.42" width="4.10" height="4.10" fill="#000" stroke="none" stroke-width="1" />
<text x="232.20" y="421.46" font-size="7.3" text-anchor="start" fill="#111" stroke="#111" stroke-width="0.18" >Un</text>
<text x="232.20" y="432.79" font-size="7.3" text-anchor="start" fill="#111" stroke="#111" stroke-width="0.18" >M-gp120</text>
<rect x="317.50" y="405.75" width="200.10" height="116.55" fill="none" stroke="#aaa" stroke-width="0.9" />
<line x1="317.50" y1="405.75" x2="317.50" y2="522.30" stroke="#888" stroke-width="0.9"/>
<line x1="317.50" y1="522.30" x2="517.60" y2="522.30" stroke="#888" stroke-width="0.9"/>
<text x="312.00" y="524.52" font-size="8.1" text-anchor="end" fill="#333" stroke="#333" stroke-width="0.18" >0</text>
<line x1="315.50" y1="522.20" x2="317.50" y2="522.20" stroke="#888" stroke-width="0.6"/>
<text x="312.00" y="507.91" font-size="8.1" text-anchor="end" fill="#333" stroke="#333" stroke-width="0.18" >5</text>
<line x1="315.50" y1="505.60" x2="317.50" y2="505.60" stroke="#888" stroke-width="0.6"/>
<text x="312.00" y="491.31" font-size="8.1" text-anchor="end" fill="#333" stroke="#333" stroke-width="0.18" >10</text>
<line x1="315.50" y1="488.99" x2="317.50" y2="488.99" stroke="#888" stroke-width="0.6"/>
<text x="312.00" y="474.70" font-size="8.1" text-anchor="end" fill="#333" stroke="#333" stroke-width="0.18" >15</text>
<line x1="315.50" y1="472.39" x2="317.50" y2="472.39" stroke="#888" stroke-width="0.6"/>
<text x="312.00" y="458.10" font-size="8.1" text-anchor="end" fill="#333" stroke="#333" stroke-width="0.18" >20</text>
<line x1="315.50" y1="455.78" x2="317.50" y2="455.78" stroke="#888" stroke-width="0.6"/>
<text x="312.00" y="441.49" font-size="8.1" text-anchor="end" fill="#333" stroke="#333" stroke-width="0.18" >25</text>
<line x1="315.50" y1="439.18" x2="317.50" y2="439.18" stroke="#888" stroke-width="0.6"/>
<text x="312.00" y="424.89" font-size="8.1" text-anchor="end" fill="#333" stroke="#333" stroke-width="0.18" >30</text>
<line x1="315.50" y1="422.57" x2="317.50" y2="422.57" stroke="#888" stroke-width="0.6"/>
<text x="312.00" y="408.28" font-size="8.1" text-anchor="end" fill="#333" stroke="#333" stroke-width="0.18" >35</text>
<line x1="315.50" y1="405.97" x2="317.50" y2="405.97" stroke="#888" stroke-width="0.6"/>
<line x1="331.35" y1="487.50" x2="331.35" y2="482.35" stroke="#555" stroke-width="0.8"/>
<line x1="329.05" y1="482.35" x2="333.65" y2="482.35" stroke="#555" stroke-width="0.8"/>
<rect x="325.50" y="487.50" width="11.70" height="34.70" fill="#fff" stroke="#666" stroke-width="0.8" />
<line x1="343.05" y1="425.89" x2="343.05" y2="418.25" stroke="#333" stroke-width="0.8"/>
<line x1="340.75" y1="418.25" x2="345.35" y2="418.25" stroke="#333" stroke-width="0.8"/>
<rect x="337.20" y="425.89" width="11.70" height="96.31" fill="#000" stroke="none" stroke-width="1" />
<line x1="371.60" y1="484.34" x2="371.60" y2="482.02" stroke="#555" stroke-width="0.8"/>
<line x1="369.30" y1="482.02" x2="373.90" y2="482.02" stroke="#555" stroke-width="0.8"/>
<rect x="365.75" y="484.34" width="11.70" height="37.86" fill="#fff" stroke="#666" stroke-width="0.8" />
<line x1="383.30" y1="444.16" x2="383.30" y2="437.18" stroke="#333" stroke-width="0.8"/>
<line x1="381.00" y1="437.18" x2="385.60" y2="437.18" stroke="#333" stroke-width="0.8"/>
<rect x="377.45" y="444.16" width="11.70" height="78.04" fill="#000" stroke="none" stroke-width="1" />
<line x1="411.35" y1="480.36" x2="411.35" y2="474.38" stroke="#555" stroke-width="0.8"/>
<line x1="409.05" y1="474.38" x2="413.65" y2="474.38" stroke="#555" stroke-width="0.8"/>
<rect x="405.50" y="480.36" width="11.70" height="41.84" fill="#fff" stroke="#666" stroke-width="0.8" />
<line x1="423.05" y1="452.46" x2="423.05" y2="445.15" stroke="#333" stroke-width="0.8"/>
<line x1="420.75" y1="445.15" x2="425.35" y2="445.15" stroke="#333" stroke-width="0.8"/>
<rect x="417.20" y="452.46" width="11.70" height="69.74" fill="#000" stroke="none" stroke-width="1" />
<line x1="452.10" y1="485.00" x2="452.10" y2="481.68" stroke="#555" stroke-width="0.8"/>
<line x1="449.80" y1="481.68" x2="454.40" y2="481.68" stroke="#555" stroke-width="0.8"/>
<rect x="446.25" y="485.00" width="11.70" height="37.20" fill="#fff" stroke="#666" stroke-width="0.8" />
<line x1="463.80" y1="469.73" x2="463.80" y2="464.41" stroke="#333" stroke-width="0.8"/>
<line x1="461.50" y1="464.41" x2="466.10" y2="464.41" stroke="#333" stroke-width="0.8"/>
<rect x="457.95" y="469.73" width="11.70" height="52.47" fill="#000" stroke="none" stroke-width="1" />
<line x1="492.10" y1="483.34" x2="492.10" y2="479.36" stroke="#555" stroke-width="0.8"/>
<line x1="489.80" y1="479.36" x2="494.40" y2="479.36" stroke="#555" stroke-width="0.8"/>
<rect x="486.25" y="483.34" width="11.70" height="38.86" fill="#fff" stroke="#666" stroke-width="0.8" />
<line x1="503.80" y1="471.72" x2="503.80" y2="468.73" stroke="#333" stroke-width="0.8"/>
<line x1="501.50" y1="468.73" x2="506.10" y2="468.73" stroke="#333" stroke-width="0.8"/>
<rect x="497.95" y="471.72" width="11.70" height="50.48" fill="#000" stroke="none" stroke-width="1" />
<polygon points="463.80,455.30 464.52,457.21 466.56,457.30 464.96,458.58 465.50,460.55 463.80,459.42 462.10,460.55 462.64,458.58 461.04,457.30 463.08,457.21" fill="#111"/>
<polygon points="503.80,457.10 504.52,459.01 506.56,459.10 504.96,460.38 505.50,462.35 503.80,461.22 502.10,462.35 502.64,460.38 501.04,459.10 503.08,459.01" fill="#111"/>
<text x="337.20" y="536.02" font-size="8.4" text-anchor="middle" fill="#111" stroke="#111" stroke-width="0.18" >0</text>
<text x="377.45" y="536.02" font-size="8.4" text-anchor="middle" fill="#111" stroke="#111" stroke-width="0.18" >1</text>
<text x="417.20" y="536.02" font-size="8.4" text-anchor="middle" fill="#111" stroke="#111" stroke-width="0.18" >5</text>
<text x="457.95" y="536.02" font-size="8.4" text-anchor="middle" fill="#111" stroke="#111" stroke-width="0.18" >10</text>
<text x="497.95" y="536.02" font-size="8.4" text-anchor="middle" fill="#111" stroke="#111" stroke-width="0.18" >50</text>
<text x="386.00" y="546.29" font-size="7.75" text-anchor="start" fill="#111" stroke="#111" stroke-width="0.18" font-weight="bold" >SB-220025 (µM)</text>
<text x="0" y="0" font-size="7.78" text-anchor="middle" fill="#111" stroke="#111" stroke-width="0.18" font-weight="bold" transform="translate(296.80,465.75) rotate(-90)">Percentage of cell migration</text>
<rect x="468.40" y="409.20" width="41.20" height="25.10" fill="#fff" stroke="#333" stroke-width="0.8" />
<rect x="471.40" y="413.93" width="4.10" height="4.10" fill="#fff" stroke="#333" stroke-width="0.7" />
<rect x="471.40" y="425.47" width="4.10" height="4.10" fill="#000" stroke="none" stroke-width="1" />
<text x="477.70" y="418.21" font-size="7.6" text-anchor="start" fill="#111" stroke="#111" stroke-width="0.18" >Un</text>
<text x="477.70" y="429.96" font-size="7.6" text-anchor="start" fill="#111" stroke="#111" stroke-width="0.18" >M-gp120</text>
<rect x="33.70" y="560.00" width="230.10" height="108.30" fill="none" stroke="#aaa" stroke-width="0.9" />
<line x1="33.70" y1="560.00" x2="33.70" y2="668.30" stroke="#888" stroke-width="0.9"/>
<line x1="33.70" y1="668.30" x2="263.80" y2="668.30" stroke="#888" stroke-width="0.9"/>
<text x="27.20" y="670.52" font-size="8.4" text-anchor="end" fill="#333" stroke="#333" stroke-width="0.18" >0</text>
<line x1="31.70" y1="668.20" x2="33.70" y2="668.20" stroke="#888" stroke-width="0.6"/>
<text x="27.20" y="657.02" font-size="8.4" text-anchor="end" fill="#333" stroke="#333" stroke-width="0.18" >5</text>
<line x1="31.70" y1="654.70" x2="33.70" y2="654.70" stroke="#888" stroke-width="0.6"/>
<text x="27.20" y="643.52" font-size="8.4" text-anchor="end" fill="#333" stroke="#333" stroke-width="0.18" >10</text>
<line x1="31.70" y1="641.20" x2="33.70" y2="641.20" stroke="#888" stroke-width="0.6"/>
<text x="27.20" y="630.02" font-size="8.4" text-anchor="end" fill="#333" stroke="#333" stroke-width="0.18" >15</text>
<line x1="31.70" y1="627.70" x2="33.70" y2="627.70" stroke="#888" stroke-width="0.6"/>
<text x="27.20" y="616.52" font-size="8.4" text-anchor="end" fill="#333" stroke="#333" stroke-width="0.18" >20</text>
<line x1="31.70" y1="614.20" x2="33.70" y2="614.20" stroke="#888" stroke-width="0.6"/>
<text x="27.20" y="603.02" font-size="8.4" text-anchor="end" fill="#333" stroke="#333" stroke-width="0.18" >25</text>
<line x1="31.70" y1="600.70" x2="33.70" y2="600.70" stroke="#888" stroke-width="0.6"/>
<text x="27.20" y="589.52" font-size="8.4" text-anchor="end" fill="#333" stroke="#333" stroke-width="0.18" >30</text>
<line x1="31.70" y1="587.20" x2="33.70" y2="587.20" stroke="#888" stroke-width="0.6"/>
<text x="27.20" y="576.02" font-size="8.4" text-anchor="end" fill="#333" stroke="#333" stroke-width="0.18" >35</text>
<line x1="31.70" y1="573.70" x2="33.70" y2="573.70" stroke="#888" stroke-width="0.6"/>
<text x="27.20" y="562.52" font-size="8.4" text-anchor="end" fill="#333" stroke="#333" stroke-width="0.18" >40</text>
<line x1="31.70" y1="560.20" x2="33.70" y2="560.20" stroke="#888" stroke-width="0.6"/>
<line x1="50.25" y1="634.40" x2="50.25" y2="628.73" stroke="#555" stroke-width="0.8"/>
<line x1="47.95" y1="628.73" x2="52.55" y2="628.73" stroke="#555" stroke-width="0.8"/>
<rect x="43.50" y="634.40" width="13.50" height="33.80" fill="#fff" stroke="#666" stroke-width="0.8" />
<line x1="63.75" y1="583.23" x2="63.75" y2="570.78" stroke="#333" stroke-width="0.8"/>
<line x1="61.45" y1="570.78" x2="66.05" y2="570.78" stroke="#333" stroke-width="0.8"/>
<rect x="57.00" y="583.23" width="13.50" height="84.97" fill="#000" stroke="none" stroke-width="1" />
<line x1="96.35" y1="637.93" x2="96.35" y2="633.59" stroke="#555" stroke-width="0.8"/>
<line x1="94.05" y1="633.59" x2="98.65" y2="633.59" stroke="#555" stroke-width="0.8"/>
<rect x="89.60" y="637.93" width="13.50" height="30.27" fill="#fff" stroke="#666" stroke-width="0.8" />
<line x1="109.85" y1="590.55" x2="109.85" y2="577.02" stroke="#333" stroke-width="0.8"/>
<line x1="107.55" y1="577.02" x2="112.15" y2="577.02" stroke="#333" stroke-width="0.8"/>
<rect x="103.10" y="590.55" width="13.50" height="77.65" fill="#000" stroke="none" stroke-width="1" />
<line x1="142.15" y1="639.55" x2="142.15" y2="630.89" stroke="#555" stroke-width="0.8"/>
<line x1="139.85" y1="630.89" x2="144.45" y2="630.89" stroke="#555" stroke-width="0.8"/>
<rect x="135.40" y="639.55" width="13.50" height="28.65" fill="#fff" stroke="#666" stroke-width="0.8" />
<line x1="155.65" y1="598.95" x2="155.65" y2="588.66" stroke="#333" stroke-width="0.8"/>
<line x1="153.35" y1="588.66" x2="157.95" y2="588.66" stroke="#333" stroke-width="0.8"/>
<rect x="148.90" y="598.95" width="13.50" height="69.25" fill="#000" stroke="none" stroke-width="1" />
<line x1="187.95" y1="633.59" x2="187.95" y2="629.54" stroke="#555" stroke-width="0.8"/>
<line x1="185.65" y1="629.54" x2="190.25" y2="629.54" stroke="#555" stroke-width="0.8"/>
<rect x="181.20" y="633.59" width="13.50" height="34.61" fill="#fff" stroke="#666" stroke-width="0.8" />
<line x1="201.45" y1="595.17" x2="201.45" y2="587.31" stroke="#333" stroke-width="0.8"/>
<line x1="199.15" y1="587.31" x2="203.75" y2="587.31" stroke="#333" stroke-width="0.8"/>
<rect x="194.70" y="595.17" width="13.50" height="73.03" fill="#000" stroke="none" stroke-width="1" />
<line x1="233.75" y1="630.35" x2="233.75" y2="623.30" stroke="#555" stroke-width="0.8"/>
<line x1="231.45" y1="623.30" x2="236.05" y2="623.30" stroke="#555" stroke-width="0.8"/>
<rect x="227.00" y="630.35" width="13.50" height="37.85" fill="#fff" stroke="#666" stroke-width="0.8" />
<line x1="247.25" y1="597.33" x2="247.25" y2="585.69" stroke="#333" stroke-width="0.8"/>
<line x1="244.95" y1="585.69" x2="249.55" y2="585.69" stroke="#333" stroke-width="0.8"/>
<rect x="240.50" y="597.33" width="13.50" height="70.88" fill="#000" stroke="none" stroke-width="1" />
<text x="57.00" y="682.92" font-size="8.4" text-anchor="middle" fill="#111" stroke="#111" stroke-width="0.18" >0</text>
<text x="103.10" y="682.92" font-size="8.4" text-anchor="middle" fill="#111" stroke="#111" stroke-width="0.18" >1</text>
<text x="148.90" y="682.92" font-size="8.4" text-anchor="middle" fill="#111" stroke="#111" stroke-width="0.18" >5</text>
<text x="194.70" y="682.92" font-size="8.4" text-anchor="middle" fill="#111" stroke="#111" stroke-width="0.18" >10</text>
<text x="240.50" y="682.92" font-size="8.4" text-anchor="middle" fill="#111" stroke="#111" stroke-width="0.18" >50</text>
<text x="121.80" y="697.43" font-size="7.85" text-anchor="start" fill="#111" stroke="#111" stroke-width="0.18" font-weight="bold" >PD 98059 (µM)</text>
<text x="0" y="0" font-size="7.77" text-anchor="middle" fill="#111" stroke="#111" stroke-width="0.18" font-weight="bold" transform="translate(11.80,614.00) rotate(-90)">Percentage of cell migration</text>
<rect x="205.40" y="561.30" width="37.60" height="25.00" fill="#fff" stroke="#333" stroke-width="0.8" />
<rect x="208.40" y="565.85" width="4.40" height="4.40" fill="#fff" stroke="#333" stroke-width="0.7" />
<rect x="208.40" y="577.35" width="4.40" height="4.40" fill="#000" stroke="none" stroke-width="1" />
<text x="214.70" y="570.11" font-size="7.1" text-anchor="start" fill="#111" stroke="#111" stroke-width="0.18" >Un</text>
<text x="214.70" y="581.81" font-size="7.1" text-anchor="start" fill="#111" stroke="#111" stroke-width="0.18" >M-gp120</text></svg>
</body></html>
